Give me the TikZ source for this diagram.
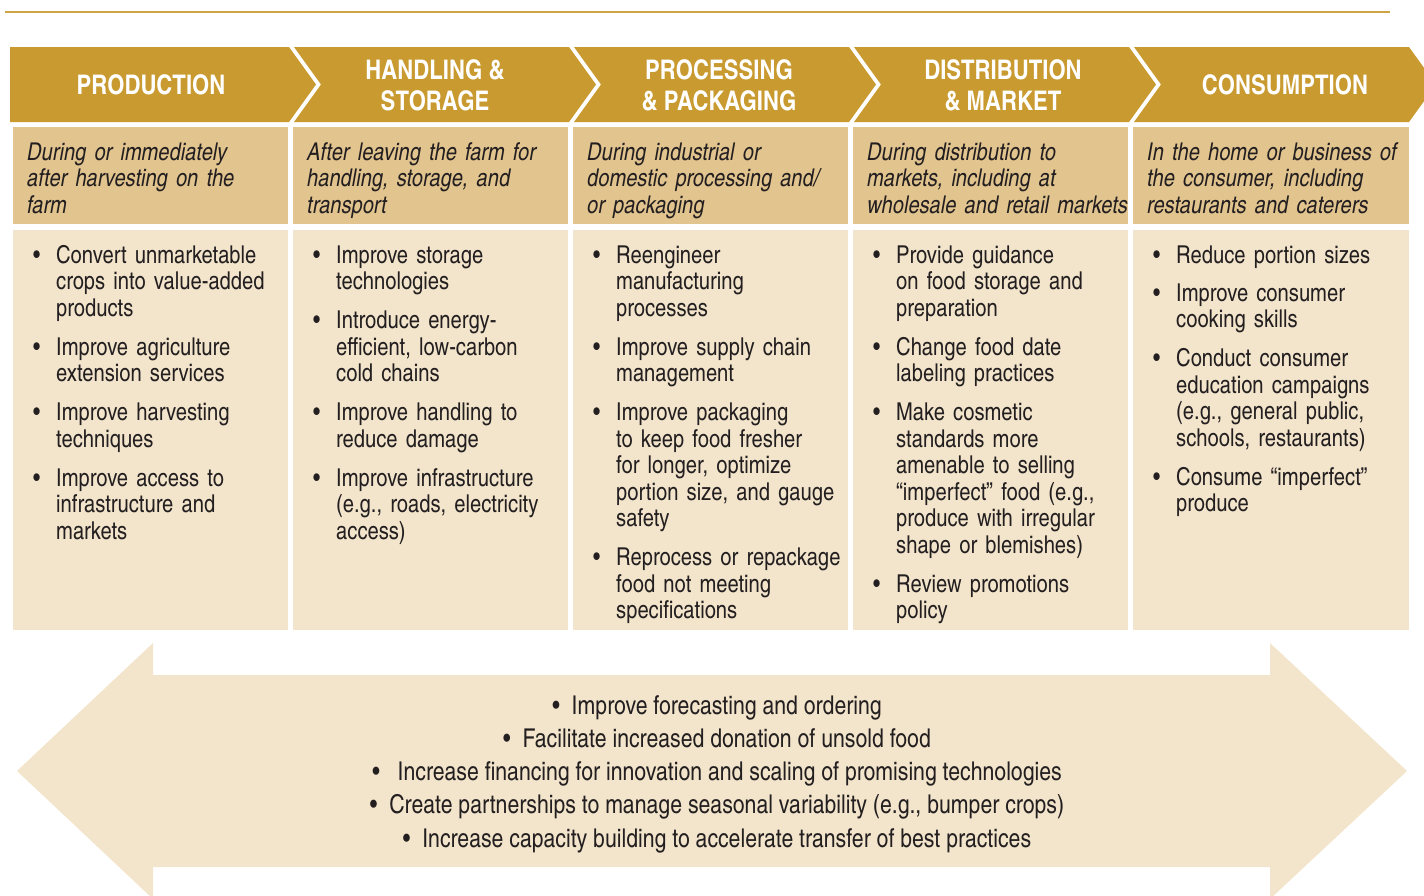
\documentclass[tikz,border=0pt]{standalone}
\usepackage{fontspec}
\setmainfont{texgyreheroscn}[Extension=.otf, UprightFont=*-regular, BoldFont=*-bold, ItalicFont=*-italic, BoldItalicFont=*-bolditalic]
\usepackage{tikz}

\definecolor{foodgold}{HTML}{C99A30}
\definecolor{foodtan}{HTML}{E2C48F}
\definecolor{foodcream}{HTML}{F3E5CB}
\definecolor{foodink}{HTML}{231F20}
\newcommand{\wasteitem}[1]{\makebox[23pt][l]{\textbullet}\parbox[t]{232pt}{\raggedright\strut #1\strut}}

\begin{document}
\begin{tikzpicture}[x=1pt, y=-1pt,
	headtext/.style={white, align=center, inner sep=0, font=\fontsize{27}{31}\selectfont\bfseries},
	desctext/.style={foodink, anchor=base west, inner sep=0, text width=262pt, align=left, font=\fontsize{24.5}{26.5}\selectfont\itshape},
	listtext/.style={foodink, anchor=base west, inner sep=0, text width=258pt, align=left, font=\fontsize{24.6}{26.5}\selectfont},
	sharedtext/.style={foodink, anchor=north, inner sep=0, align=center, font=\fontsize{25.9}{33.3}\selectfont}]
	\useasboundingbox (0,0) rectangle (1424,895);

	\draw[foodgold!90, line width=2.5pt] (5,12) -- (1390,12);

	% chevrons
	\fill[foodgold] (10,47) -- (289,47) -- (316,84.5) -- (289,122) -- (10,122) -- cycle;
	\fill[foodgold] (294,47) -- (569,47) -- (596,84.5) -- (569,122) -- (294,122) -- (321,84.5) -- cycle;
	\fill[foodgold] (574,47) -- (849,47) -- (876,84.5) -- (849,122) -- (574,122) -- (601,84.5) -- cycle;
	\fill[foodgold] (854,47) -- (1129,47) -- (1156,84.5) -- (1129,122) -- (854,122) -- (881,84.5) -- cycle;
	\fill[foodgold] (1134,47) -- (1409,47) -- (1436,84.5) -- (1409,122) -- (1134,122) -- (1161,84.5) -- cycle;

	\node[headtext] (prodhead) at (151,85) {PRODUCTION};
	\node[headtext] (handhead) at (435,85) {HANDLING \&\\STORAGE};
	\node[headtext] (prochead) at (719,85) {PROCESSING\\\& PACKAGING};
	\node[headtext] (disthead) at (1003,85) {DISTRIBUTION\\\& MARKET};
	\node[headtext] (conshead) at (1285,85) {CONSUMPTION};

	% columns
	\fill[foodtan] (13,127) rectangle (288,224);
	\fill[foodtan] (293,127) rectangle (568,224);
	\fill[foodtan] (573,127) rectangle (848,224);
	\fill[foodtan] (853,127) rectangle (1128,224);
	\fill[foodtan] (1133,127) rectangle (1409,224);

	\fill[foodcream] (13,230) rectangle (288,630);
	\fill[foodcream] (293,230) rectangle (568,630);
	\fill[foodcream] (573,230) rectangle (848,630);
	\fill[foodcream] (853,230) rectangle (1128,630);
	\fill[foodcream] (1133,230) rectangle (1409,630);

	\node[desctext] (proddesc) at (27,160) {During or immediately\\after harvesting on the\\farm};
	\node[desctext] (handdesc) at (307,160) {After leaving the farm for\\handling, storage, and\\transport};
	\node[desctext] (procdesc) at (587,160) {During industrial or\\domestic processing and/\\or packaging};
	\node[desctext] (distdesc) at (867,160) {During distribution to\\markets, including at\\wholesale and retail markets};
	\node[desctext] (consdesc) at (1147,160) {In the home or business of\\the consumer, including\\restaurants and caterers};

	\node[listtext] (prodlist) at (33,263) {%
		\wasteitem{Convert unmarketable\\crops into value-added\\products}\\[11.5pt]
		\wasteitem{Improve agriculture\\extension services}\\[11.5pt]
		\wasteitem{Improve harvesting\\techniques}\\[11.5pt]
		\wasteitem{Improve access to\\infrastructure and\\markets}};
	\node[listtext] (handlist) at (313,263) {%
		\wasteitem{Improve storage\\technologies}\\[11.5pt]
		\wasteitem{Introduce energy-\\efficient, low-carbon\\cold chains}\\[11.5pt]
		\wasteitem{Improve handling to\\reduce damage}\\[11.5pt]
		\wasteitem{Improve infrastructure\\(e.g., roads, electricity\\access)}};
	\node[listtext] (proclist) at (593,263) {%
		\wasteitem{Reengineer\\manufacturing\\processes}\\[11.5pt]
		\wasteitem{Improve supply chain\\management}\\[11.5pt]
		\wasteitem{Improve packaging\\to keep food fresher\\for longer, optimize\\portion size, and gauge\\safety}\\[11.5pt]
		\wasteitem{Reprocess or repackage\\food not meeting\\specifications}};
	\node[listtext] (distlist) at (873,263) {%
		\wasteitem{Provide guidance\\on food storage and\\preparation}\\[11.5pt]
		\wasteitem{Change food date\\labeling practices}\\[11.5pt]
		\wasteitem{Make cosmetic\\standards more\\amenable to selling\\“imperfect” food (e.g.,\\produce with irregular\\shape or blemishes)}\\[11.5pt]
		\wasteitem{Review promotions\\policy}};
	\node[listtext] (conslist) at (1153,263) {%
		\wasteitem{Reduce portion sizes}\\[11.5pt]
		\wasteitem{Improve consumer\\cooking skills}\\[11.5pt]
		\wasteitem{Conduct consumer\\education campaigns\\(e.g., general public,\\schools, restaurants)}\\[11.5pt]
		\wasteitem{Consume “imperfect”\\produce}};

	% double arrow
	\fill[foodcream] (17,771) -- (153,643) -- (153,675) -- (1270,675) -- (1270,643) -- (1407,771)
		-- (1270,899) -- (1270,867) -- (153,867) -- (153,899) -- cycle;

	\node[sharedtext] (sharedlist) at (717,695) {\textbullet\hspace{12pt}Improve forecasting and ordering\\
		\textbullet\hspace{12pt}Facilitate increased donation of unsold food\\
		\textbullet\hspace{18pt}Increase financing for innovation and scaling of promising technologies\\
		\textbullet\hspace{12pt}Create partnerships to manage seasonal variability (e.g., bumper crops)\\
		\textbullet\hspace{12pt}Increase capacity building to accelerate transfer of best practices};
\end{tikzpicture}
\end{document}
